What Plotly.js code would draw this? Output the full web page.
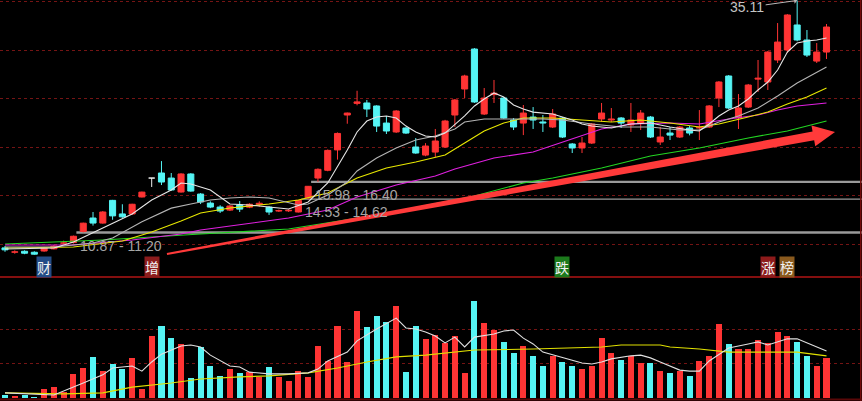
<!DOCTYPE html>
<html><head><meta charset="utf-8">
<script src="https://cdn.plot.ly/plotly-3.0.1.min.js"></script>
<style>html,body{margin:0;padding:0;background:#000;}#chart{width:862px;height:401px;}</style>
</head><body><div id="chart"></div>
<script>
// ---- candle data (index 0..84) ----
const openP  = [9.60,9.15,9.25,9.15,9.28,9.50,10.08,10.15,11.30,12.68,12.16,14.50,13.10,13.10,14.85,16.80,17.32,16.80,15.36,17.22,15.15,14.22,13.81,13.50,14.02,13.80,14.10,13.80,13.40,13.42,13.30,14.75,16.80,17.60,19.70,23.30,24.50,24.54,24.23,22.47,21.55,21.96,20.00,19.17,19.48,20.00,23.30,25.98,30.10,23.40,25.40,25.05,22.78,22.47,23.09,22.58,22.06,22.99,20.31,19.90,20.41,22.89,22.78,22.99,22.27,22.47,23.09,20.52,21.44,21.03,21.96,21.96,22.06,25.05,27.32,23.00,24.12,27.00,26.70,28.97,30.00,32.58,31.03,28.86,29.79];
const highP  = [9.80,9.35,9.35,9.25,9.70,9.90,10.35,10.87,12.20,13.30,13.40,14.55,14.10,14.15,15.40,16.80,18.55,17.32,17.30,17.30,15.25,14.40,14.00,14.00,14.43,14.20,14.40,13.90,13.55,13.58,14.53,15.98,17.80,19.75,21.50,23.55,25.80,24.85,24.30,23.20,23.80,22.05,20.93,20.40,21.86,22.80,24.95,27.45,30.20,26.08,26.91,25.15,22.99,24.33,24.12,23.30,23.92,23.09,20.41,21.03,22.47,24.54,24.02,23.09,24.54,23.81,23.20,22.06,22.06,22.16,22.16,23.81,24.33,26.80,27.42,25.46,26.50,28.97,29.90,32.78,33.70,35.11,32.06,30.72,32.68];
const lowP   = [9.20,9.00,8.95,8.90,9.20,9.45,9.95,10.05,11.20,11.90,12.10,12.50,12.70,13.00,14.80,15.88,16.08,15.50,15.30,15.40,14.12,13.70,13.20,13.40,13.30,13.70,13.85,13.00,13.30,13.30,13.25,14.62,16.40,17.50,18.70,22.40,24.30,23.09,21.55,21.34,21.45,21.35,19.30,19.05,18.97,19.90,22.06,25.05,24.55,23.30,24.54,22.90,21.75,21.23,21.86,21.55,21.96,20.93,19.38,19.38,20.31,22.58,22.58,21.96,21.55,21.75,20.93,20.21,20.72,20.93,21.20,20.72,21.96,24.12,23.92,21.86,24.02,25.67,25.88,28.66,29.69,30.90,29.28,28.66,29.07];
const closeP = [9.40,9.20,9.05,8.95,9.58,9.78,10.12,10.80,12.15,12.16,13.30,12.90,12.80,14.10,15.35,16.80,16.39,15.57,17.22,15.46,14.33,13.81,13.40,13.92,13.60,14.10,14.20,13.30,13.45,13.48,14.50,15.95,17.70,19.65,21.40,23.50,24.65,23.92,22.16,21.65,23.71,21.44,19.38,20.10,20.62,22.68,24.85,27.32,24.64,25.05,25.55,22.99,22.06,23.50,22.78,22.47,23.40,21.03,19.90,20.41,22.37,23.50,22.89,22.47,22.78,23.50,21.03,21.03,21.23,22.06,21.44,22.06,24.23,26.70,24.02,24.02,26.39,27.10,29.79,30.82,33.61,31.03,29.48,29.79,32.37];
const volume = [9,6,9,3,26,32,18,71,88,121,79,100,85,118,26,182,212,176,159,59,150,94,65,85,74,76,62,91,62,50,79,62,153,109,212,106,256,209,241,224,271,76,212,174,185,162,182,74,285,221,200,165,132,153,124,94,124,106,94,85,94,176,132,112,124,103,103,79,74,79,65,109,124,218,159,144,144,171,162,194,182,165,124,94,118];

// ---- moving average lines (index, value) ----
const ma5Idx = [0,5,7,10,13,15,17,18,19,21,22,23,25,27,29,31,33,35,36,37,38,39,40,41,42,43,44,45,46,47,48,49,50,51,52,53,54,55,56,57,58,59,60,62,64,66,68,70,71,72,73,74,75,76,77,78,79,80,81,82,83,84];
const ma5Val = [9.49,9.59,10.21,11.65,13.09,14.54,15.57,16.29,16.19,15.57,14.85,14.12,14.02,13.82,13.61,14.33,16.29,19.69,21.55,22.68,23.09,23.20,22.99,22.16,21.55,21.13,21.03,21.44,22.27,23.20,24.23,24.95,25.57,25.15,24.33,23.92,23.60,23.50,23.40,23.09,22.78,22.37,22.16,21.96,22.37,22.47,22.06,21.75,21.65,22.37,23.20,23.81,24.23,24.95,25.88,26.70,27.94,29.79,30.72,30.93,31.03,31.24];
const ma10Idx = [0,5,9,11,14,17,19,21,23,25,27,29,30,31,33,35,36,38,40,42,44,46,47,49,51,53,55,57,60,63,66,69,71,73,75,77,79,81,83,84];
const ma10Val = [9.69,9.69,10.10,10.62,12.30,13.70,14.12,14.54,14.74,14.85,14.74,14.23,14.02,14.12,15.05,16.39,17.53,18.87,19.90,20.72,21.13,21.85,22.58,22.89,22.89,22.89,22.89,22.78,22.37,22.06,22.06,21.75,21.75,22.58,23.20,24.02,25.26,26.60,27.73,28.25];
const ma20Idx = [0,7,12,15,18,20,23,27,30,33,36,39,42,45,47,49,51,53,56,59,62,65,68,71,73,76,78,80,82,84];
const ma20Val = [9.59,9.69,10.31,11.24,12.37,13.20,13.71,14.12,14.54,15.26,16.80,17.83,18.45,19.17,20.41,21.65,22.47,22.99,22.99,22.78,22.58,22.78,22.47,22.06,22.37,23.09,23.61,24.43,25.15,26.08];
const ma30Idx = [0,7,13,18,20,24,29,33,36,40,44,46,50,54,58,61,64,68,71,74,77,79,81,84];
const ma30Val = [9.90,9.90,10.41,11.03,11.44,11.96,12.68,13.51,14.85,16.08,17.01,17.73,18.87,19.48,20.82,21.86,22.37,22.47,22.37,22.89,23.30,23.81,24.23,24.54];
const ma60Idx = [0,10,20,29,38,48,53,56,61,66,71,76,80,84];
const ma60Val = [10.00,10.41,11.03,11.55,12.99,14.95,16.29,16.80,17.83,19.07,19.90,20.93,21.65,22.68];

const volMa5Idx = [0,5,8,10,11,13,14,15,16,18,19,20,21,23,24,25,27,29,31,32,33,34,35,36,38,40,41,42,43,44,45,46,47,48,50,51,52,53,54,55,57,59,60,61,62,64,65,66,67,68,69,70,71,72,73,74,76,77,78,79,80,81,82,83,84];
const volMa5Val = [15,9,44,68,88,94,79,106,129,153,156,150,126,94,91,76,71,71,74,85,109,121,135,168,203,235,206,203,194,182,162,179,150,179,188,197,200,176,159,135,118,103,100,106,115,124,126,118,106,94,82,79,79,109,129,147,159,165,156,165,174,174,162,150,138];
const volMa10Idx = [0,6,10,13,17,20,24,27,31,34,37,40,43,46,48,54,57,61,63,67,68,71,74,81,84];
const volMa10Val = [15,12,15,32,44,56,62,65,74,88,106,121,126,135,141,144,147,150,156,156,150,144,135,135,124];

// ---- gaps (price gaps marked on the chart) ----
const gapIdx  = [7, 30, 31];
const gapLow  = [10.87, 14.53, 15.98];
const gapHigh = [11.20, 14.62, 16.40];

// ---- marked high ----
const peakIdx = 81, peakVal = 35.11;

// ---- bottom tags ----
const tagText = ['财','增','跌','涨','榜'];
const tagIdx  = [4, 15, 57, 78, 80];
const tagBg   = ['#234c86','#8c1c1c','#1c7a1c','#8e1b1b','#8a5a1e'];

// ---- trend arrow (index, price) ----
const arrowIdx   = [16.56, 84.87];
const arrowPrice = [8.97, 21.55];

// ---- layout constants ----
const W = 862, H = 401;
const X_RANGE = [-0.511, 87.63];
const P_RANGE = [6.60, 35.155];
const V_RANGE = [0, 347];
const PRICE_BOTTOM_PX = 277, VOL_TOP_PX = 280, VOL_BOTTOM_PX = 398;
const RED = '#ff3434', CYAN = '#55f4f4', WHITE = '#f0f0f0';
const GRID = '#741414';
const GAP_LINE_W = [2.5, 1.2, 2.2];
const GAP_LABEL_SHIFT = [-1, -3, 0];

const n = openP.length;
const idx = Array.from({length:n}, (_,i)=>i);

function group(filterFn){
  const bx=[], bb=[], bh=[], wx=[], wy=[];
  for (let i=0;i<n;i++){
    if(!filterFn(i)) continue;
    bx.push(i); bb.push(Math.min(openP[i],closeP[i])); bh.push(Math.abs(closeP[i]-openP[i]));
    wx.push(i,i,null); wy.push(lowP[i],highP[i],null);
  }
  return {bx,bb,bh,wx,wy};
}
const up = group(i=>closeP[i]>openP[i]);
const dn = group(i=>closeP[i]<openP[i]);
const dj = group(i=>closeP[i]===openP[i]);

const traces = [];
function addCandles(g, color){
  traces.push({type:'scatter', mode:'lines', x:g.wx, y:g.wy, xaxis:'x', yaxis:'y',
    line:{color:color, width:1}, hoverinfo:'skip', showlegend:false, connectgaps:false});
  traces.push({type:'bar', x:g.bx, y:g.bh, base:g.bb, width:0.62, xaxis:'x', yaxis:'y',
    marker:{color:color, line:{color:color, width:1}}, hoverinfo:'skip', showlegend:false});
}
addCandles(up, RED); addCandles(dn, CYAN); addCandles(dj, WHITE);

function addLine(xs, ys, color, yaxis){
  traces.push({type:'scatter', mode:'lines', x:xs, y:ys, xaxis:'x', yaxis:yaxis,
    line:{color:color, width:1.1}, hoverinfo:'skip', showlegend:false});
}
addLine(ma60Idx, ma60Val, '#22d622', 'y');
addLine(ma30Idx, ma30Val, '#e020e0', 'y');
addLine(ma20Idx, ma20Val, '#e8e800', 'y');
addLine(ma10Idx, ma10Val, '#b4b4b4', 'y');
addLine(ma5Idx, ma5Val, '#e6e6e6', 'y');

// volume
const volColors = idx.map(i => closeP[i] >= openP[i] ? RED : CYAN);
traces.push({type:'bar', x:idx, y:volume, width:0.62, xaxis:'x', yaxis:'y2',
  marker:{color:volColors, line:{width:0}}, hoverinfo:'skip', showlegend:false});
addLine(volMa10Idx, volMa10Val, '#e0e000', 'y2');
addLine(volMa5Idx, volMa5Val, '#e0e0e0', 'y2');

// arrow polygon
const pxI = W/(X_RANGE[1]-X_RANGE[0]);
const pxP = PRICE_BOTTOM_PX/(P_RANGE[1]-P_RANGE[0]);
const toPx = (i,p)=>[(i-X_RANGE[0])*pxI, (P_RANGE[1]-p)*pxP];
const toData = (x,y)=>[x/pxI+X_RANGE[0], P_RANGE[1]-y/pxP];
const [sx,sy] = toPx(arrowIdx[0], arrowPrice[0]);
const [tx,ty] = toPx(arrowIdx[1], arrowPrice[1]);
const L = Math.hypot(tx-sx, ty-sy), ux=(tx-sx)/L, uy=(ty-sy)/L, nx=-uy, ny=ux;
const headLen=22, headHalf=10.5, w0=1, w1=4.5;
const bxp = tx-ux*headLen, byp = ty-uy*headLen;
const pts = [[sx+nx*w0, sy+ny*w0],[bxp+nx*w1, byp+ny*w1],[bxp+nx*headHalf, byp+ny*headHalf],[tx,ty],
             [bxp-nx*headHalf, byp-ny*headHalf],[bxp-nx*w1, byp-ny*w1],[sx-nx*w0, sy-ny*w0]].map(p=>toData(p[0],p[1]));
const arrowPath = 'M ' + pts.map(p=>p[0].toFixed(4)+','+p[1].toFixed(4)).join(' L ') + ' Z';

const shapes = [];
for (let k=0;k<gapIdx.length;k++){
  shapes.push({type:'line', xref:'x', yref:'y', x0:gapIdx[k]+0.3, x1:X_RANGE[1], y0:gapHigh[k], y1:gapHigh[k],
    line:{color:'#9a9a9a', width:GAP_LINE_W[k]}, layer:'between'});
}
shapes.push({type:'path', xref:'x', yref:'y', path:arrowPath, fillcolor:'#ff3a3a', line:{width:0}, layer:'above'});
const sepY = 1-PRICE_BOTTOM_PX/H;
shapes.push({type:'line', xref:'paper', yref:'paper', x0:0, x1:1, y0:sepY, y1:sepY, line:{color:'#b01414', width:1.5}});
shapes.push({type:'line', xref:'paper', yref:'paper', x0:(W-1.2)/W, x1:(W-1.2)/W, y0:0, y1:1, line:{color:'#7a0c0c', width:1.5}});
shapes.push({type:'line', xref:'paper', yref:'paper', x0:0, x1:1, y0:1.5/H, y1:1.5/H, line:{color:'#5a0808', width:2}});

const annotations = [];
for (let k=0;k<gapIdx.length;k++){
  annotations.push({xref:'x', yref:'y', x:gapIdx[k]+0.3, y:gapLow[k], xanchor:'left', yanchor:'top',
    xshift:3, yshift:GAP_LABEL_SHIFT[k], showarrow:false, borderpad:0, text:gapLow[k].toFixed(2)+' - '+gapHigh[k].toFixed(2),
    font:{family:'Liberation Sans, Arial, sans-serif', size:14, color:'#a6a6a6'}});
}
annotations.push({xref:'x', yref:'y', x:peakIdx, y:peakVal, text:peakVal.toFixed(2), showarrow:true,
  ax:-50, ay:7, arrowhead:1, arrowsize:1, arrowwidth:1, arrowcolor:'#b8b8b8', standoff:0,
  font:{family:'Liberation Sans, Arial, sans-serif', size:14, color:'#c4c4c4'}});
const tagY = 1-267/H;
for (let k=0;k<tagText.length;k++){
  annotations.push({xref:'x', yref:'paper', x:tagIdx[k], y:tagY, text:tagText[k], showarrow:false,
    bgcolor:tagBg[k], borderpad:0, font:{family:'Noto Sans CJK SC, sans-serif', size:14, color:'#f2f2f2'}});
}

const layout = {
  width:W, height:H, margin:{l:0,r:0,t:0,b:0,pad:0},
  paper_bgcolor:'#000', plot_bgcolor:'#000', showlegend:false, hovermode:false,
  barmode:'overlay', bargap:0,
  xaxis:{range:X_RANGE, domain:[0,1], showticklabels:false, showgrid:false, zeroline:false, showline:false, ticks:'', anchor:'y2'},
  yaxis:{range:P_RANGE, domain:[1-PRICE_BOTTOM_PX/H, 1], showticklabels:false, zeroline:false, showline:false, ticks:'',
    tickvals:[10,15,20,25,30,35], showgrid:true, gridcolor:GRID, griddash:'dot', gridwidth:1},
  yaxis2:{range:V_RANGE, domain:[1-VOL_BOTTOM_PX/H, 1-VOL_TOP_PX/H], showticklabels:false, zeroline:false, showline:false, ticks:'',
    tickvals:[100,200], showgrid:true, gridcolor:GRID, griddash:'dot', gridwidth:1},
  shapes:shapes, annotations:annotations
};
Plotly.newPlot('chart', traces, layout, {staticPlot:true, displayModeBar:false});
</script>
</body></html>
